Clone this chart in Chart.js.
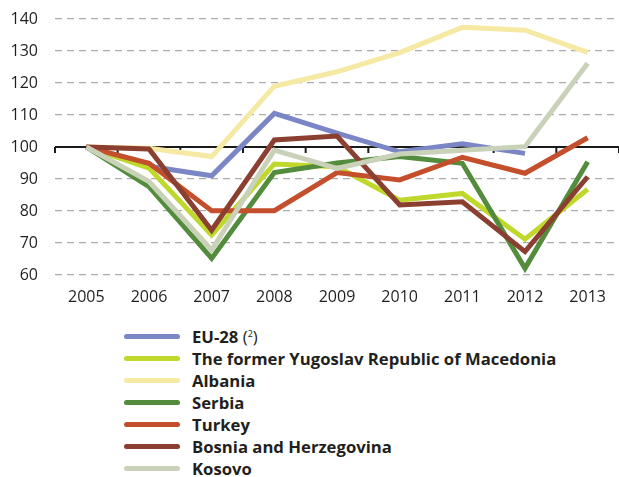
<!DOCTYPE html>
<html>
<head>
<meta charset="utf-8">
<script src="https://cdn.jsdelivr.net/npm/chart.js@4"></script>
<style>
  html, body { margin: 0; padding: 0; background: #fff; }
  #wrap { position: relative; width: 619px; height: 477px; }
  #chartBox { position: absolute; left: 0; top: 0; width: 619px; height: 310px; }
  #legend {
    position: absolute; left: 124px; top: 326px;
    font-family: "Open Sans", sans-serif; font-weight: bold; font-size: 16.7px; color: #231f20;
  }
  .row { height: 21.9px; display: flex; align-items: center; white-space: nowrap; }
  .swatch { width: 56px; height: 5px; border-radius: 3px; margin-right: 12px; }
  .note { font-weight: normal; }
  .note sup { font-size: 9px; vertical-align: 6px; }
</style>
</head>
<body>
<div id="wrap">
  <div id="chartBox"><canvas id="lineChart" width="619" height="310"></canvas></div>
  <div id="legend"></div>
</div>
<script>
/* ---------- data ---------- */
const years = ["2005", "2006", "2007", "2008", "2009", "2010", "2011", "2012", "2013"];

const eu28      = [100, 94.0, 91.0, 110.5, 104.3, 98.5, 101.0, 98.0, null];
const macedonia = [100, 93.4, 72.5, 94.7, 93.8, 83.4, 85.5, 71.2, 86.8];
const albania   = [100, 99.6, 97.0, 119.0, 123.5, 129.5, 137.4, 136.5, 129.6];
const serbia    = [100, 87.6, 65.2, 92.0, 95.0, 97.0, 94.9, 62.1, 95.4];
const turkey    = [100, 94.9, 80.1, 80.1, 92.0, 89.7, 96.8, 91.8, 102.9];
const bosnia    = [100, 99.4, 74.0, 102.2, 103.4, 81.9, 82.9, 67.3, 90.7];
const kosovo    = [100, 89.2, 67.8, 99.0, 93.3, 97.8, 99.0, 100.1, 126.2];

const yTicks = [60, 70, 80, 90, 100, 110, 120, 130, 140];

const seriesNames = [
    "EU-28 (²)",
    "The former Yugoslav Republic of Macedonia",
    "Albania",
    "Serbia",
    "Turkey",
    "Bosnia and Herzegovina",
    "Kosovo"
];
const seriesData = [eu28, macedonia, albania, serbia, turkey, bosnia, kosovo];
const seriesColors = ["#7a86c6", "#c0d82c", "#f5e9a3", "#528c3c", "#c34f2c", "#8a3f30", "#c9d1b8"];

const textColor = "#231f20";
const font = { family: "'Open Sans', sans-serif", size: 16 };

/* black axis line at 100 with category tick marks, drawn under the lines */
const baseLine = {
    id: "baseLine",
    beforeDatasetsDraw(chart) {
        const ctx = chart.ctx;
        const x = chart.scales.x;
        const y0 = chart.scales.y.getPixelForValue(100);
        const n = years.length;
        ctx.save();
        ctx.strokeStyle = "#1a1a1a";
        ctx.lineWidth = 2;
        ctx.beginPath();
        ctx.moveTo(x.left, y0);
        ctx.lineTo(x.right, y0);
        for (let i = 0; i <= n; i++) {
            const tx = x.left + i * (x.right - x.left) / n;
            ctx.moveTo(tx, y0);
            ctx.lineTo(tx, y0 + 6);
        }
        ctx.stroke();
        ctx.restore();
    }
};

const datasets = seriesNames.map(function (name, i) {
    return {
        label: name,
        data: seriesData[i],
        borderColor: seriesColors[i],
        backgroundColor: seriesColors[i],
        borderWidth: 5,
        pointRadius: 0,
        tension: 0,
        clip: false,
        order: seriesNames.length - i   // later series drawn on top
    };
});

const chart = new Chart(document.getElementById("lineChart"), {
    type: "line",
    data: { labels: years, datasets: datasets },
    options: {
        responsive: false,
        animation: false,
        devicePixelRatio: 1,
        layout: { padding: { top: 19, right: 0, left: 0, bottom: 0 } },
        plugins: {
            legend: { display: false },
            tooltip: { enabled: false }
        },
        scales: {
            x: {
                offset: true,
                grid: { display: false, drawTicks: false },
                border: { display: false },
                ticks: { font: font, color: textColor, padding: 13, maxRotation: 0 },
                afterFit(scale) { scale.height = 35; }
            },
            y: {
                min: 60,
                max: 140,
                afterBuildTicks(scale) { scale.ticks = yTicks.map(v => ({ value: v })); },
                grid: { color: "#acacac", lineWidth: 1.2, drawTicks: false },
                border: { display: false, dash: [7, 5] },
                ticks: { font: font, color: textColor, padding: 17 },
                afterFit(scale) {
                    scale.width = 55;
                    scale.paddingTop = 0;
                    scale.paddingBottom = 0;
                }
            }
        }
    },
    plugins: [baseLine]
});

/* HTML legend, one entry per row */
const legend = document.getElementById("legend");
chart.data.datasets.forEach(function (ds) {
    const row = document.createElement("div");
    row.className = "row";
    const sw = document.createElement("div");
    sw.className = "swatch";
    sw.style.background = ds.borderColor;
    const txt = document.createElement("span");
    if (ds.label.indexOf("(²)") >= 0) {
        txt.appendChild(document.createTextNode(ds.label.replace(" (²)", " ")));
        const note = document.createElement("span");
        note.className = "note";
        note.innerHTML = "(<sup>2</sup>)";
        txt.appendChild(note);
    } else {
        txt.textContent = ds.label;
    }
    row.appendChild(sw);
    row.appendChild(txt);
    legend.appendChild(row);
});
</script>
</body>
</html>
